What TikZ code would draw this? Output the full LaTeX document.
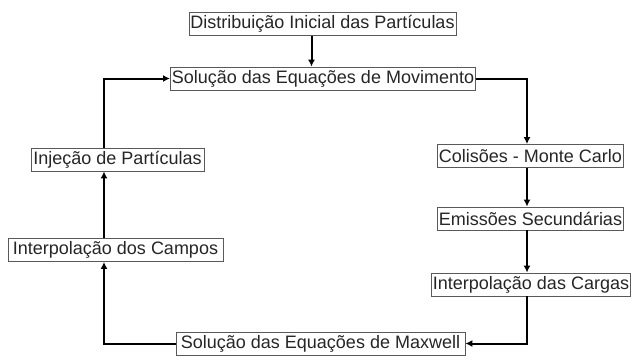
\documentclass[tikz,border=0pt]{standalone}
\usepackage{fontspec}
\setmainfont{Liberation Sans}
\usetikzlibrary{arrows.meta,calc}
\begin{document}
\begin{tikzpicture}[x=1pt,y=-1pt,
  box/.style={draw=black!65,line width=0.8pt,fill=white,inner xsep=1.5pt,inner ysep=0pt,
    minimum height=23pt,font=\fontsize{18}{20}\selectfont,text=black!85},
  arr/.style={line width=2pt,-{Latex[length=7pt,width=7pt]}}]
\useasboundingbox (0,0) rectangle (632,360);
\node[box,minimum width=267pt] (d) at (322.5,24) {Distribuição Inicial das Partículas};
\node[box,minimum width=304pt] (s) at (323,78.5) {Solução das Equações de Movimento};
\node[box,minimum width=185pt] (c) at (530.5,156) {Colisões - Monte Carlo};
\node[box,minimum width=185pt] (e) at (530.5,218.5) {Emissões Secundárias};
\node[box,minimum width=198pt] (g) at (531,284.5) {Interpolação das Cargas};
\node[box,minimum width=289pt] (m) at (320.5,343.5) {Solução das Equações de Maxwell};
\node[box,minimum width=215pt] (f) at (115.5,250) {Interpolação dos Campos};
\node[box,minimum width=173pt] (i) at (117.5,159.5) {Injeção de Partículas};
\coordinate (rx) at (527,0);
\coordinate (lx) at (104,0);
\draw[arr] ([xshift=-11pt]d.south) -- ([xshift=-11pt]d.south |- s.north);
\draw[arr] (s.east) -| (rx |- c.north);
\draw[arr] (rx |- c.south) -- (rx |- e.north);
\draw[arr] (rx |- e.south) -- (rx |- g.north);
\draw[arr] (rx |- g.south) |- (m.east);
\draw[arr] (m.west) -| (lx |- f.south);
\draw[arr] (lx |- f.north) -- (lx |- i.south);
\draw[arr] (lx |- i.north) |- (s.west);
\end{tikzpicture}
\end{document}
